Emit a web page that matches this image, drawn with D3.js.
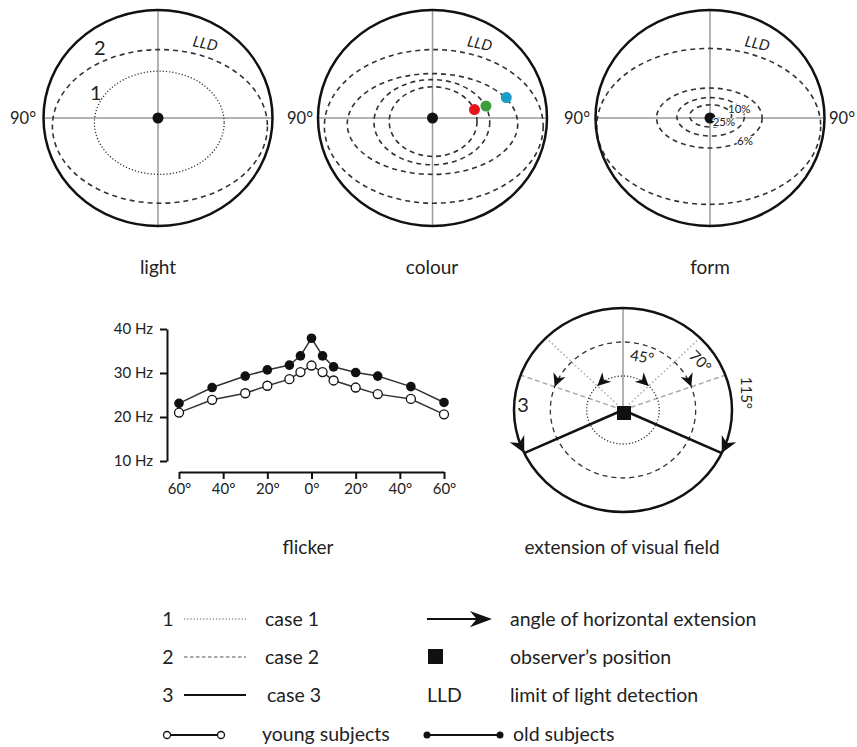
<!DOCTYPE html>
<html>
<head>
<meta charset="utf-8">
<script src="https://cdn.jsdelivr.net/npm/d3@7"></script>
<style>
  body { margin: 0; background: #fff; }
  svg { font-family: Lato, "Open Sans", sans-serif; fill: #222; }
</style>
</head>
<body>
<svg id="chart" width="857" height="747"></svg>
<script>
// field contours in degrees: [left, right, top, bottom] extents (up = positive)
const lightContours = [[-83, 86, 57, -71], [-50, 52, 39, -47]];
const colourContours = [[-85, 87, 57, -71], [-67, 67, 37, -47], [-46, 45, 32, -39], [-34, 35, 26, -32]];
const colourDots = [[33, 7], [42, 10], [58, 17]];
const colourNames = ['red', 'green', 'blue'];
const formContours = [[-89, 87, 58, -72], [-42, 41, 25, -25], [-26, 27, 17, -15], [-16, 17, 11, -7.5]];
const formLabels = ['6%', '25%', '10%'];

// flicker fusion frequency (Hz) by eccentricity
const flickerAngles = [-60, -45, -30, -20, -10, -5, 0, 5, 10, 20, 30, 45, 60];
const oldHz = [23.1, 26.7, 29.3, 30.7, 31.8, 33.9, 37.9, 33.9, 31.4, 30.1, 29.3, 26.9, 23.3];
const youngHz = [21.0, 23.9, 25.4, 27.1, 28.6, 30.2, 31.7, 30.2, 28.3, 26.7, 25.2, 24.1, 20.6];
const hzTicks = [10, 20, 30, 40];
const angleTicks = [-60, -40, -20, 0, 20, 40, 60];

// horizontal extension per case
const extensionAngles = [45, 70, 115];

const legendCases = ['case 1', 'case 2', 'case 3'];
const legendKeys = ['1', '2', '3'];
const legendSymbols = ['angle of horizontal extension', 'observer\u2019s position', 'limit of light detection'];

const svg = d3.select('#chart');
const black = '#111';
const gray = '#9a9a9a';
const dashes = ['1.2,2', '5,4', null];

function fieldPanel(cx, contours, dashList) {
  const x = d3.scaleLinear().domain([-90, 90]).range([cx - 114.5, cx + 114.5]);
  const y = d3.scaleLinear().domain([-90, 90]).range([118 + 108, 118 - 108]);
  const g = svg.append('g');

  g.append('line').attr('x1', x(-90)).attr('x2', x(90)).attr('y1', y(0)).attr('y2', y(0))
    .attr('stroke', gray).attr('stroke-width', 1.5);
  g.append('line').attr('x1', x(0)).attr('x2', x(0)).attr('y1', y(90)).attr('y2', y(-90))
    .attr('stroke', gray).attr('stroke-width', 1.5);

  g.selectAll('ellipse.c')
    .data(contours)
    .enter()
    .append('ellipse')
    .attr('class', 'c')
    .attr('cx', (d) => (x(d[0]) + x(d[1])) / 2)
    .attr('cy', (d) => (y(d[2]) + y(d[3])) / 2)
    .attr('rx', (d) => (x(d[1]) - x(d[0])) / 2)
    .attr('ry', (d) => (y(d[3]) - y(d[2])) / 2)
    .attr('fill', 'none')
    .attr('stroke', '#333')
    .attr('stroke-width', (d, i) => (dashList[i] === '1.2,2' ? 1.3 : 1.6))
    .attr('stroke-dasharray', (d, i) => dashList[i]);

  g.append('ellipse')
    .attr('cx', x(0)).attr('cy', y(0))
    .attr('rx', x(90) - x(0)).attr('ry', y(-90) - y(0))
    .attr('fill', 'none').attr('stroke', black).attr('stroke-width', 2.5);

  g.append('circle').attr('cx', x(0)).attr('cy', y(0)).attr('r', 5.5).attr('fill', black);

  g.append('text')
    .text('LLD')
    .attr('transform', `translate(${x(0) + 34}, ${y(0) - 72}) rotate(12)`)
    .attr('font-style', 'italic')
    .attr('font-size', 15);

  return { g, x, y };
}

// light
const light = fieldPanel(158, lightContours, ['5,4', '1.2,2']);
light.g.append('text').text('2').attr('x', 94).attr('y', 55).attr('font-size', 20);
light.g.append('text').text('1').attr('x', 90).attr('y', 100).attr('font-size', 20);

// colour
const colour = fieldPanel(432.5, colourContours, ['5,4', '5,4', '5,4', '5,4']);
const dotFill = d3.scaleOrdinal().domain(colourNames).range(['#e8141c', '#3b9e3b', '#1b9cc9']);
colour.g.selectAll('circle.dot')
  .data(colourDots)
  .enter()
  .append('circle')
  .attr('class', 'dot')
  .attr('cx', (d) => colour.x(d[0]))
  .attr('cy', (d) => colour.y(d[1]))
  .attr('r', 5.5)
  .attr('fill', (d, i) => dotFill(colourNames[i]));

// form
const form = fieldPanel(710, formContours, ['5,4', '5,4', '5,4', '5,4']);
const formLabelPos = [[27.5, -22.5], [11, -6.5], [23, 4]];
form.g.selectAll('text.pct')
  .data(formLabels)
  .enter()
  .append('text')
  .attr('class', 'pct')
  .text((d) => d)
  .attr('x', (d, i) => form.x(formLabelPos[i][0]))
  .attr('y', (d, i) => form.y(formLabelPos[i][1]))
  .attr('font-size', 11.5)
  .attr('text-anchor', 'middle')
  .attr('stroke', '#fff')
  .attr('stroke-width', 2)
  .attr('paint-order', 'stroke');

// 90° labels
svg.append('g')
  .selectAll('text')
  .data([23, 300, 577, 842])
  .enter()
  .append('text')
  .text('90\u00b0')
  .attr('x', (d) => d)
  .attr('y', 124)
  .attr('font-size', 16.5)
  .attr('text-anchor', 'middle');

svg.append('g')
  .selectAll('text')
  .data([['light', 158], ['colour', 432], ['form', 710]])
  .enter()
  .append('text')
  .text((d) => d[0])
  .attr('x', (d) => d[1])
  .attr('y', 274)
  .attr('font-size', 19)
  .attr('text-anchor', 'middle');

// flicker
const fx = d3.scaleLinear().domain([-60, 60]).range([179, 444]);
const fy = d3.scaleLinear().domain([10, 40]).range([461, 329]);

const yAxis = svg.append('g')
  .attr('transform', 'translate(167, 0)')
  .call(d3.axisLeft(fy).tickValues(hzTicks).tickFormat((d) => `${d} Hz`).tickSize(7).tickSizeOuter(0).tickPadding(7));
const xAxis = svg.append('g')
  .attr('transform', 'translate(0, 472)')
  .call(d3.axisBottom(fx).tickValues(angleTicks).tickFormat((d) => `${Math.abs(d)}\u00b0`).tickSize(7).tickSizeOuter(0).tickPadding(4));
[yAxis, xAxis].forEach((a) => {
  a.select('.domain').attr('stroke', black).attr('stroke-width', 2);
  a.selectAll('.tick line').attr('stroke', black).attr('stroke-width', 2);
  a.selectAll('.tick text').attr('font-size', 15).attr('fill', '#222').attr('font-family', 'Lato, sans-serif');
});

const line = (values) => d3.line().x((d, i) => fx(flickerAngles[i])).y((d) => fy(d))(values);
svg.append('path').attr('d', line(oldHz)).attr('fill', 'none').attr('stroke', '#333').attr('stroke-width', 1.5);
svg.append('path').attr('d', line(youngHz)).attr('fill', 'none').attr('stroke', '#333').attr('stroke-width', 1.5);

svg.append('g').selectAll('circle')
  .data(youngHz)
  .enter()
  .append('circle')
  .attr('cx', (d, i) => fx(flickerAngles[i]))
  .attr('cy', (d) => fy(d))
  .attr('r', 4.5)
  .attr('fill', '#fff')
  .attr('stroke', black)
  .attr('stroke-width', 1.3);
svg.append('g').selectAll('circle')
  .data(oldHz)
  .enter()
  .append('circle')
  .attr('cx', (d, i) => fx(flickerAngles[i]))
  .attr('cy', (d) => fy(d))
  .attr('r', 4.8)
  .attr('fill', black);

svg.append('text').text('flicker').attr('x', 308).attr('y', 554).attr('font-size', 19).attr('text-anchor', 'middle');

// extension of visual field
const ecx = 623;
const ecy = 410;
const ringX = d3.scaleLinear().domain([0, 3]).range([0, 109]);
const ringY = d3.scaleLinear().domain([0, 3]).range([0, 102]);
const pt = (deg, k) => {
  const a = deg * Math.PI / 180;
  return [ecx + ringX(k) * Math.sin(a), ecy - ringY(k) * Math.cos(a)];
};
const ext = svg.append('g');

ext.append('line').attr('x1', ecx).attr('y1', ecy).attr('x2', ecx).attr('y2', ecy - ringY(3))
  .attr('stroke', gray).attr('stroke-width', 1.5);
[-1, 1].forEach((s) => {
  [0, 1].forEach((k) => {
    const p = pt(s * extensionAngles[k], 3);
    ext.append('line').attr('x1', ecx).attr('y1', ecy).attr('x2', p[0]).attr('y2', p[1])
      .attr('stroke', '#aaa').attr('stroke-width', 1.5)
      .attr('stroke-dasharray', k === 0 ? '1.5,2.5' : '5,3');
  });
});

ext.selectAll('ellipse.ring')
  .data([1, 2, 3])
  .enter()
  .append('ellipse')
  .attr('class', 'ring')
  .attr('cx', ecx).attr('cy', ecy)
  .attr('rx', (d) => ringX(d))
  .attr('ry', (d) => ringY(d))
  .attr('fill', 'none')
  .attr('stroke', (d) => (d === 3 ? black : '#333'))
  .attr('stroke-width', (d) => (d === 3 ? 2.5 : 1.3))
  .attr('stroke-dasharray', (d) => dashes[d - 1]);

[-1, 1].forEach((s) => {
  const p = pt(s * extensionAngles[2], 3);
  ext.append('line').attr('x1', ecx).attr('y1', ecy).attr('x2', p[0]).attr('y2', p[1])
    .attr('stroke', black).attr('stroke-width', 2.5);
});

const arrowHead = 'M0,0 L-13,-6.5 L-9,0 L-13,6.5 Z';
ext.selectAll('path.head')
  .data(extensionAngles.flatMap((a, i) => [[a, i + 1, 1], [-a, i + 1, -1]]))
  .enter()
  .append('path')
  .attr('class', 'head')
  .attr('d', arrowHead)
  .attr('fill', black)
  .attr('transform', (d) => {
    const p = pt(d[0], d[1]);
    const a = d[0] * Math.PI / 180;
    // tangent of the ring, pointing away from straight ahead
    const tx = d[2] * ringX(d[1]) * Math.cos(a);
    const ty = d[2] * ringY(d[1]) * Math.sin(a);
    const rot = Math.atan2(ty, tx) * 180 / Math.PI;
    const sc = d[1] === 3 ? 1.25 : 1;
    return `translate(${p[0]}, ${p[1]}) rotate(${rot}) scale(${sc})`;
  });

ext.append('rect').attr('x', ecx - 6).attr('y', ecy - 4).attr('width', 14).attr('height', 14).attr('fill', black);

const extLabel = [[20, 55, 10], [58, 90, 45], [82, 123, 90]];
ext.selectAll('text.ang')
  .data(extensionAngles)
  .enter()
  .append('text')
  .attr('class', 'ang')
  .text((d) => `${d}\u00b0`)
  .attr('text-anchor', 'middle')
  .attr('dominant-baseline', 'middle')
  .attr('font-size', 15)
  .attr('transform', (d, i) => {
    const a = extLabel[i][0] * Math.PI / 180;
    const r = extLabel[i][1];
    return `translate(${ecx + r * Math.sin(a)}, ${ecy - r * Math.cos(a)}) rotate(${extLabel[i][2]})`;
  });
ext.append('text').text('3').attr('x', 523).attr('y', 412).attr('font-size', 20).attr('text-anchor', 'middle');

svg.append('text').text('extension of visual field').attr('x', 622).attr('y', 554).attr('font-size', 19).attr('text-anchor', 'middle');

// legend
const rows = [619, 657, 695, 735];
const leg = svg.append('g').attr('font-size', 19.5);
legendCases.forEach((label, i) => {
  leg.append('text').text(legendKeys[i]).attr('x', 168).attr('y', rows[i] + 7).attr('text-anchor', 'middle');
  leg.append('line').attr('x1', 184).attr('x2', 246).attr('y1', rows[i]).attr('y2', rows[i])
    .attr('stroke', i === 2 ? black : '#555').attr('stroke-width', i === 2 ? 2 : 1.2)
    .attr('stroke-dasharray', dashes[i] === '5,4' ? '3.5,2.5' : dashes[i]);
  leg.append('text').text(label).attr('x', i === 2 ? 267 : 265).attr('y', rows[i] + 7);
});
leg.append('line').attr('x1', 167).attr('x2', 221).attr('y1', rows[3]).attr('y2', rows[3]).attr('stroke', black).attr('stroke-width', 2);
leg.selectAll('circle.young').data([167, 221]).enter().append('circle').attr('class', 'young')
  .attr('cx', (d) => d).attr('cy', rows[3]).attr('r', 3.5).attr('fill', '#fff').attr('stroke', black).attr('stroke-width', 1.3);
leg.append('text').text('young subjects').attr('x', 262).attr('y', rows[3] + 6);

leg.append('line').attr('x1', 427).attr('x2', 478).attr('y1', rows[0]).attr('y2', rows[0]).attr('stroke', black).attr('stroke-width', 2);
leg.append('path').attr('d', arrowHead).attr('transform', `translate(492, ${rows[0]}) scale(1.7, 1.25)`).attr('fill', black);
leg.append('rect').attr('x', 428).attr('y', rows[1] - 8).attr('width', 15).attr('height', 15).attr('fill', black);
leg.append('text').text('LLD').attr('x', 427).attr('y', rows[2] + 7);
leg.append('line').attr('x1', 427).attr('x2', 500).attr('y1', rows[3]).attr('y2', rows[3]).attr('stroke', black).attr('stroke-width', 2);
leg.selectAll('circle.old').data([427, 500]).enter().append('circle').attr('class', 'old')
  .attr('cx', (d) => d).attr('cy', rows[3]).attr('r', 3.5).attr('fill', black);
legendSymbols.forEach((label, i) => {
  leg.append('text').text(label).attr('x', 510).attr('y', rows[i] + 7);
});
leg.append('text').text('old subjects').attr('x', 513).attr('y', rows[3] + 6);
</script>
</body>
</html>
